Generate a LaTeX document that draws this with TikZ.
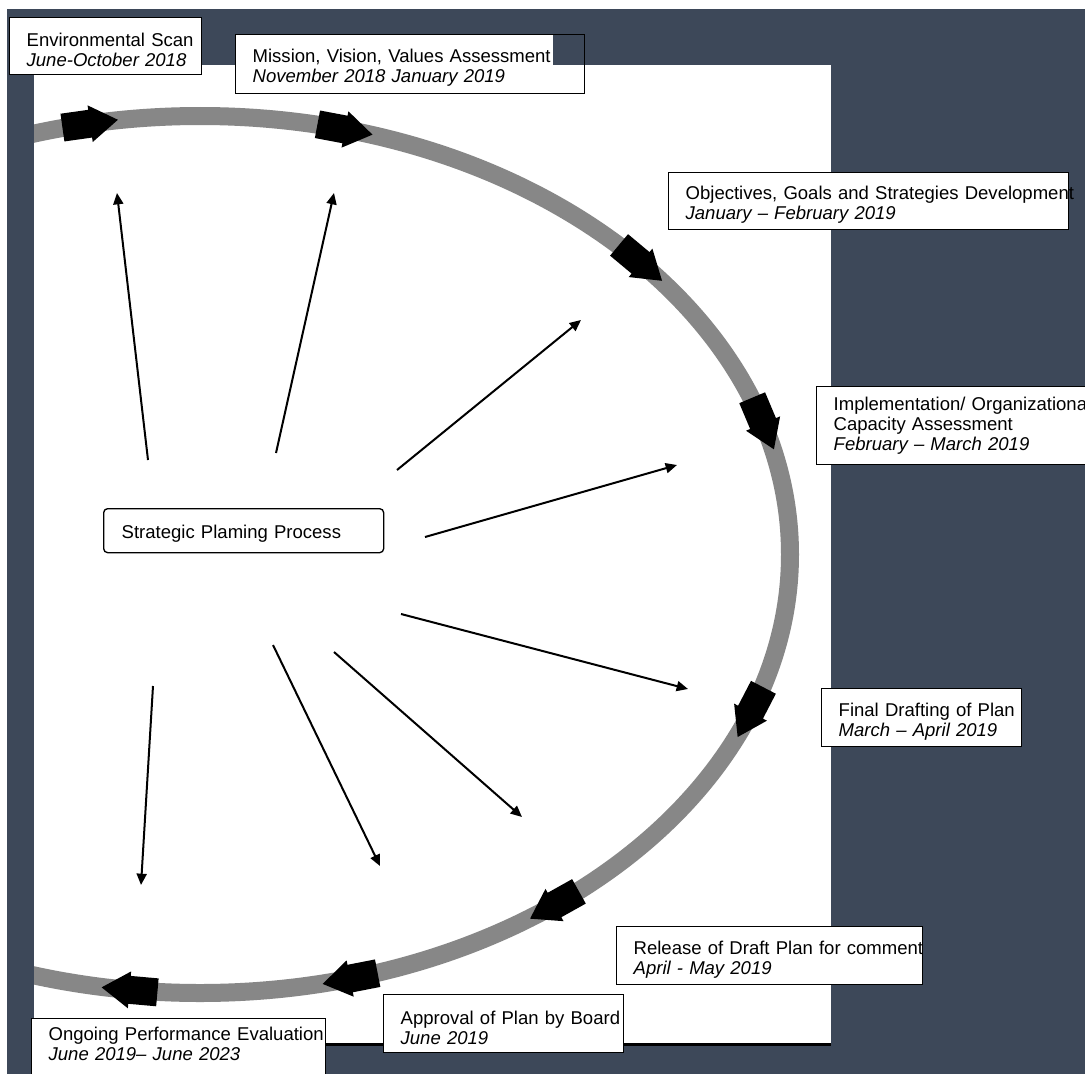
\documentclass[tikz,border=0pt]{standalone}
\usepackage{fontspec}
\setmainfont{Liberation Sans}
\usetikzlibrary{arrows.meta}

\definecolor{slate}{RGB}{61,72,89}
\definecolor{ringgray}{RGB}{135,135,135}

% stage label: title line, then dates in italics
\newcommand{\stage}[2]{\hspace*{12.75pt}\rule{0pt}{16pt}\mbox{#1}\\\hspace*{12.75pt}\textit{#2}}
% block arrow sitting on the ring, tip at parameter angle #1
\newcommand{\ringarrow}[1]{%
  \pgfmathsetmacro{\midangle}{#1-16.043/sqrt((5.9*sin(#1))^2+(4.385*cos(#1))^2)}%
  \pgfmathsetmacro{\tipdir}{atan2(-4.385*cos(\midangle), -5.9*sin(\midangle))}%
  \path (ring) ++(\midangle:590 and 438.5) coordinate (mid);
  \fill[flowtip, shift={(mid)}, rotate=\tipdir]
    (-28,-14) -- (0,-14) -- (0,-18.5) -- (28,0) -- (0,18.5) -- (0,14) -- (-28,14) -- cycle;}

\begin{document}
\begin{tikzpicture}[
    x=0.75pt, y=-0.75pt,
    >={Triangle[length=8.5pt, width=7.5pt]},
    font=\fontsize{13.9pt}{15pt}\selectfont,
    stagebox/.style={
        draw=black, line width=1pt, fill=white, anchor=north west,
        inner sep=0pt, align=left
    },
    procbox/.style={stagebox, rounded corners=3pt},
    spoke/.style={->, line width=1.5pt},
    ringline/.style={draw=ringgray, line width=13.5pt},
    flowtip/.style={fill=black},
]
\useasboundingbox (0,0) rectangle (1085,1074);
\clip (0,0) rectangle (1085,1074);

% ── Backdrop ──
\fill[white] (0,0) rectangle (1085,1074);
\fill[slate] (7,9) rectangle (1085,1074);
\fill[white] (34,65) rectangle (831,1044);
\draw[line width=2.2pt] (34,1044.5) -- (831,1044.5);

% ── Cycle ring with its block arrows ──
\coordinate (ring) at (200,554.5);
\begin{scope}
  \clip (34,65) rectangle (831,1044);
  \draw[ringline] (ring) ellipse[x radius=590, y radius=438.5];
  \ringarrow{-98}
  \ringarrow{-73}
  \ringarrow{-38.5}
  \ringarrow{-13.8}
  \ringarrow{24.5}
  \ringarrow{56}
  \ringarrow{78}
  \ringarrow{99.6}
\end{scope}

% ── Spokes out of the process ──
\coordinate (s1) at (148,460); \coordinate (t1) at (117,193);
\coordinate (s2) at (276,453); \coordinate (t2) at (334,193);
\coordinate (s3) at (397,470); \coordinate (t3) at (581,320);
\coordinate (s4) at (425,537); \coordinate (t4) at (677,465);
\coordinate (s5) at (401,614); \coordinate (t5) at (688,689);
\coordinate (s6) at (334,652); \coordinate (t6) at (522,817);
\coordinate (s7) at (273,645); \coordinate (t7) at (380,866);
\coordinate (s8) at (153,686); \coordinate (t8) at (141,885);
\draw[spoke] (s1) -- (t1);
\draw[spoke] (s2) -- (t2);
\draw[spoke] (s3) -- (t3);
\draw[spoke] (s4) -- (t4);
\draw[spoke] (s5) -- (t5);
\draw[spoke] (s6) -- (t6);
\draw[spoke] (s7) -- (t7);
\draw[spoke] (s8) -- (t8);

% ── Centre ──
\node[procbox, text width=210pt, minimum height=33pt] (spp) at (103,508)
    {\hspace*{13.5pt}\rule{0pt}{14.6pt}Strategic Plaming Process};

% ── Stages ──
\node[stagebox, text width=144pt, minimum height=42.75pt] (scan) at (9,17)
    {\stage{Environmental Scan}{June-October 2018}};
\fill[white] (235,34) rectangle (553,93);
\node[stagebox, fill=none, text width=261.75pt, minimum height=44.25pt] (mission) at (235,34)
    {\stage{Mission, Vision, Values Assessment}{November 2018 January 2019}};
\node[stagebox, text width=300pt, minimum height=42.75pt] (goals) at (668,172)
    {\stage{Objectives, Goals and Strategies Development}{January -- February 2019}};
\node[stagebox, text width=217.5pt, minimum height=58.5pt] (capacity) at (816,386)
    {\hspace*{12.75pt}\mbox{Implementation/ Organizational}\\
     \hspace*{12.75pt}Capacity Assessment\\
     \hspace*{12.75pt}\textit{February -- March 2019}};
\node[stagebox, text width=150pt, minimum height=43.5pt] (drafting) at (821,688)
    {\stage{Final Drafting of Plan}{March -- April 2019}};
\node[stagebox, text width=229.5pt, minimum height=43.5pt] (release) at (616,926)
    {\stage{Release of Draft Plan for comment}{April - May 2019}};
\node[stagebox, text width=180pt, minimum height=43.5pt] (approval) at (383,994)
    {\stage{Approval of Plan by Board}{June 2019}};
\node[stagebox, text width=220.5pt, minimum height=50pt] (evaluation) at (31,1018)
    {\stage{Ongoing Performance Evaluation}{June 2019-- June 2023}\\\strut};

\end{tikzpicture}
\end{document}
